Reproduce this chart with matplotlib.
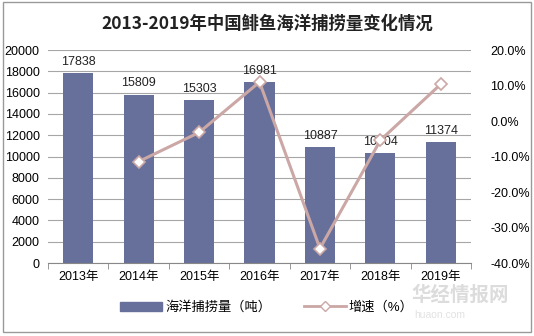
import numpy as np
import matplotlib.pyplot as plt
from matplotlib.lines import Line2D
from matplotlib.patches import Patch, Rectangle

plt.rcParams['font.family'] = ['Liberation Sans', 'Noto Sans CJK SC']

years = ['2013年', '2014年', '2015年', '2016年', '2017年', '2018年', '2019年']
catch = [17838, 15809, 15303, 16981, 10887, 10304, 11374]
growth = [None, -11.4, -3.2, 11.0, -35.9, -5.4, 10.4]

bar_color = '#66709b'
line_color = '#cba7a6'

fig = plt.figure(figsize=(5.34, 3.36), dpi=100)
ax = fig.add_axes([0.09, 0.217, 0.792, 0.634])
x = np.arange(len(years))

ax.bar(x, catch, width=0.5, color=bar_color, zorder=2)
for xi, v in zip(x, catch):
    ax.text(xi, v + 500, str(v), ha='center', va='bottom', fontsize=9, color='#222222')

ax.set_xlim(-0.5, len(years) - 0.5)
ax.set_ylim(0, 20000)
ax.set_yticks(np.arange(0, 20001, 2000))
ax.yaxis.grid(True, color='#a6a6a6', linewidth=0.8, zorder=0)
ax.set_axisbelow(True)
for s in ['top', 'right', 'left']:
    ax.spines[s].set_visible(False)
ax.spines['bottom'].set_color('#888888')
ax.tick_params(axis='y', length=0, labelsize=9, pad=6)
ax.set_xticks(x)
ax.set_xticklabels(years, fontsize=9)
ax.set_xticks(np.arange(-0.5, len(years)), minor=True)
ax.tick_params(axis='x', which='major', length=0, pad=6)
ax.tick_params(axis='x', which='minor', length=4, color='#888888')

ax2 = ax.twinx()
gx = [xi for xi, g in zip(x, growth) if g is not None]
gy = [g for g in growth if g is not None]
ax2.plot(gx, gy, color=line_color, linewidth=2.2, marker='D', markersize=6,
         markerfacecolor='white', markeredgecolor=line_color, markeredgewidth=1.2, zorder=3)
ax2.set_ylim(-40, 20)
ax2.set_yticks(np.arange(-40, 21, 10))
ax2.set_yticklabels(['%.1f%%' % t for t in np.arange(-40, 21, 10)])
ax2.tick_params(axis='y', length=0, labelsize=9, pad=14)
for s in ['top', 'right', 'left', 'bottom']:
    ax2.spines[s].set_visible(False)

fig.suptitle('2013-2019年中国鲱鱼海洋捕捞量变化情况', y=0.955, fontsize=12.5,
             fontweight='bold', family=['Noto Sans CJK SC'], color='#222222')

handles = [Patch(color=bar_color),
           Line2D([], [], color=line_color, linewidth=2, marker='D', markersize=5,
                  markerfacecolor='white', markeredgecolor=line_color)]
fig.legend(handles, ['海洋捕捞量（吨）', '增速（%）'], loc='center', bbox_to_anchor=(0.5, 0.085),
           ncol=2, frameon=False, fontsize=9.5, handlelength=3.2, columnspacing=2.5,
           handletextpad=0.2)

# watermark
fig.text(0.77, 0.105, '华经情报网', fontsize=14, color='#dcdcdc', fontweight='bold',
         family=['Noto Sans CJK SC'])
fig.text(0.775, 0.055, 'huaon.com', fontsize=7.5, color='#e2e2e2')

fig.add_artist(Rectangle((0.006, 0.012), 0.988, 0.982, transform=fig.transFigure,
                         fill=False, edgecolor='#9a9a9a', linewidth=1))

fig.savefig('out.png', dpi=100)
